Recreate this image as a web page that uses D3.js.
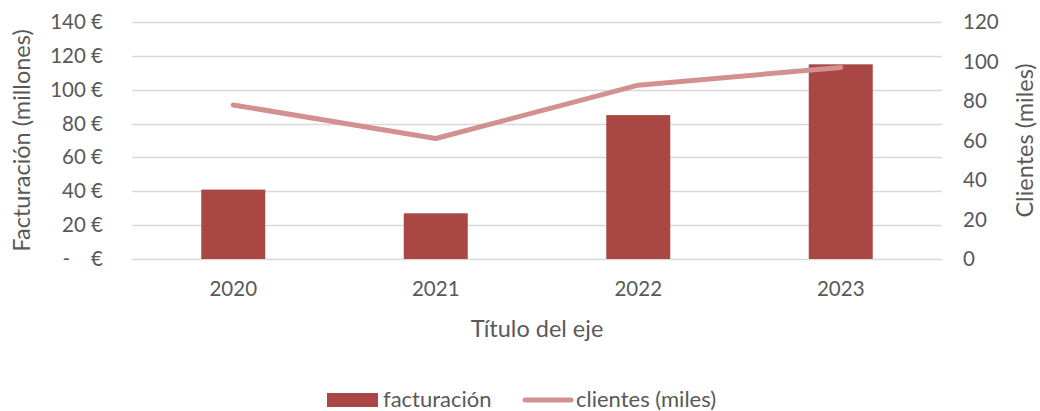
<!DOCTYPE html>
<html>
<head>
<meta charset="utf-8">
<script src="https://cdn.jsdelivr.net/npm/d3@7"></script>
<style>
body { margin: 0; background: #fff; }
text { font-family: Lato, "Open Sans", sans-serif; fill: #595959; }
</style>
</head>
<body>
<script>
// chart data
var years = ["2020", "2021", "2022", "2023"];
var facturacion = [41, 27, 85, 115];
var clientes = [78, 61, 88, 97];
var leftTicks = [0, 20, 40, 60, 80, 100, 120, 140];
var rightTicks = [0, 20, 40, 60, 80, 100, 120];

var W = 1040, H = 411;
var margin = {top: 22, right: 98, bottom: 152, left: 132};
var width = W - margin.left - margin.right;
var height = H - margin.top - margin.bottom;

var svg = d3.select("body").append("svg")
	.attr("width", W)
	.attr("height", H);
var g = svg.append("g").attr("transform", "translate(" + margin.left + "," + margin.top + ")");

var x = d3.scaleBand().domain(years).range([0, width]);
var yL = d3.scaleLinear().domain([0, 140]).range([height, 0]);
var yR = d3.scaleLinear().domain([0, 120]).range([height, 0]);

// gridlines
g.selectAll(".grid")
	.data(leftTicks)
	.enter()
	.append("line")
	.attr("x1", 0).attr("x2", width)
	.attr("y1", function(d) { return Math.round(yL(d)) + 0.5; })
	.attr("y2", function(d) { return Math.round(yL(d)) + 0.5; })
	.attr("stroke", "#d9d9d9")
	.attr("stroke-width", 1.3);

// left axis
var leftAxis = g.append("g")
	.call(d3.axisLeft(yL).tickValues(leftTicks).tickSize(0).tickPadding(29)
		.tickFormat(function(d) { return d == 0 ? "-\u00A0\u00A0\u00A0\u00A0€" : d + " €"; }));
leftAxis.select(".domain").remove();
leftAxis.selectAll("text").attr("font-size", 20.5).style("font-family", null);

// right axis
var rightAxis = g.append("g")
	.attr("transform", "translate(" + width + ",0)")
	.call(d3.axisRight(yR).tickValues(rightTicks).tickSize(0).tickPadding(21));
rightAxis.select(".domain").remove();
rightAxis.selectAll("text").attr("font-size", 20.5).style("font-family", null);

// x axis
var xAxis = g.append("g")
	.attr("transform", "translate(0," + height + ")")
	.call(d3.axisBottom(x).tickSize(0).tickPadding(22));
xAxis.select(".domain").remove();
xAxis.selectAll("text").attr("font-size", 20.5).style("font-family", null);

// bars
var barW = 64;
g.selectAll(".bar")
	.data(years)
	.enter()
	.append("rect")
	.attr("x", function(d) { return x(d) + x.bandwidth() / 2 - barW / 2; })
	.attr("y", function(d, i) { return yL(facturacion[i]); })
	.attr("width", barW)
	.attr("height", function(d, i) { return height - yL(facturacion[i]); })
	.attr("fill", "#a94745");

// line
var line = d3.line()
	.x(function(d, i) { return x(years[i]) + x.bandwidth() / 2; })
	.y(function(d) { return yR(d); });
g.append("path")
	.datum(clientes)
	.attr("d", line)
	.attr("fill", "none")
	.attr("stroke", "#d29190")
	.attr("stroke-width", 5)
	.attr("stroke-linecap", "round")
	.attr("stroke-linejoin", "round");

// axis titles
svg.append("text")
	.attr("transform", "translate(30," + (margin.top + height / 2) + ") rotate(-90)")
	.attr("text-anchor", "middle")
	.attr("font-size", 23.5)
	.text("Facturación (millones)");
svg.append("text")
	.attr("transform", "translate(1033," + (margin.top + height / 2) + ") rotate(-90)")
	.attr("text-anchor", "middle")
	.attr("font-size", 23.5)
	.text("Clientes (miles)");
svg.append("text")
	.attr("x", margin.left + width / 2)
	.attr("y", 337)
	.attr("text-anchor", "middle")
	.attr("font-size", 23.5)
	.text("Título del eje");

// legend
var leg = svg.append("g");
leg.append("rect")
	.attr("x", 327).attr("y", 393)
	.attr("width", 51).attr("height", 14)
	.attr("fill", "#a94745");
leg.append("text")
	.attr("x", 383).attr("y", 407)
	.attr("font-size", 22)
	.text("facturación");
leg.append("line")
	.attr("x1", 525).attr("x2", 571)
	.attr("y1", 400).attr("y2", 400)
	.attr("stroke", "#d29190")
	.attr("stroke-width", 5)
	.attr("stroke-linecap", "round");
leg.append("text")
	.attr("x", 576).attr("y", 407)
	.attr("font-size", 22)
	.text("clientes (miles)");
</script>
</body>
</html>
